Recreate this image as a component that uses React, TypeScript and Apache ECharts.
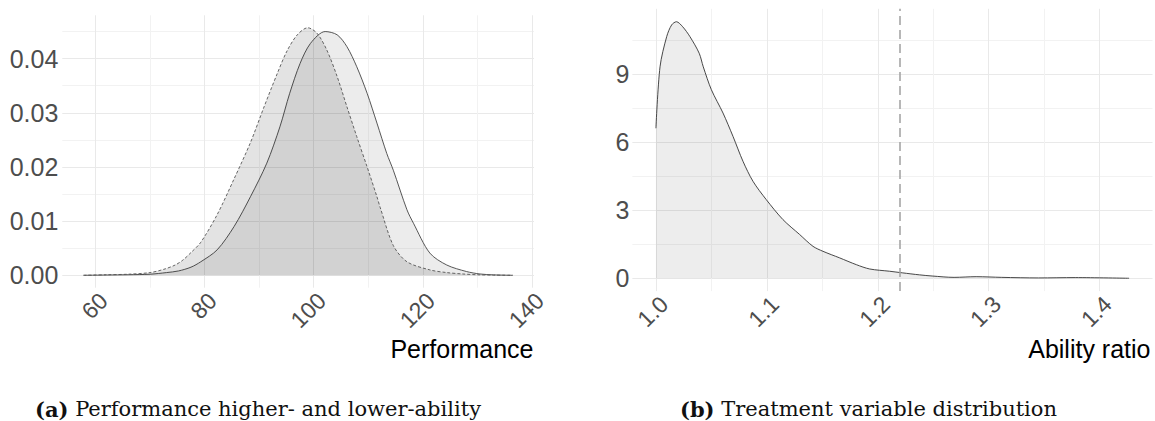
import React, { useEffect, useRef } from "react";
import * as echarts from "echarts";

// Panel (a): density of performance, lower-ability (dashed) and higher-ability (solid)
const lowAbilityX = [57.8, 62, 66, 70, 72.5, 74.6, 76, 77.5, 79.3, 82.3, 85.4, 88.4, 90.9, 93.3, 95.1, 97.0, 98.9, 100.6, 102.4, 104.3, 106.1, 107.9, 109.8, 111.6, 112.2, 114.6, 117.1, 121.3, 124.4, 127.4, 130, 133, 136.5];
const lowAbilityY = [0, 0.0001, 0.0002, 0.0005, 0.0011, 0.0019, 0.0028, 0.0042, 0.0061, 0.0112, 0.0178, 0.0245, 0.0311, 0.0372, 0.0414, 0.0444, 0.0457, 0.0447, 0.0416, 0.0367, 0.0311, 0.0256, 0.02, 0.0145, 0.0125, 0.0055, 0.0025, 0.001, 0.0005, 0.00024, 0.0001, 0.00004, 0];

const highAbilityX = [57.8, 62, 66, 70, 73, 75.2, 77.5, 79.3, 82.3, 85.4, 88.4, 91.4, 93.8, 95.6, 97.5, 99.4, 102.1, 104.3, 106.1, 107.9, 109.8, 111.6, 113.4, 114.6, 117.1, 118.3, 121.3, 124.4, 128.0, 130.5, 133, 136.5];
const highAbilityY = [0, 0.00005, 0.0001, 0.0002, 0.0005, 0.0008, 0.0015, 0.0025, 0.0047, 0.009, 0.0145, 0.0207, 0.0274, 0.0336, 0.0391, 0.0428, 0.045, 0.0444, 0.0422, 0.0385, 0.0336, 0.0281, 0.0225, 0.0194, 0.0121, 0.0096, 0.0041, 0.0019, 0.0007, 0.00024, 0.00008, 0];

// Panel (b): density of the ability ratio
const ratioX = [1.0, 1.0037, 1.0097, 1.0142, 1.0185, 1.0241, 1.0307, 1.039, 1.0427, 1.05, 1.0605, 1.0695, 1.0785, 1.0875, 1.0995, 1.1145, 1.1296, 1.1416, 1.1506, 1.1656, 1.1807, 1.1927, 1.2107, 1.2221, 1.2377, 1.249, 1.2688, 1.2887, 1.3118, 1.345, 1.378, 1.4266];
const ratioY = [6.62, 9.33, 10.66, 11.18, 11.32, 11.1, 10.66, 9.93, 9.33, 8.32, 7.29, 6.26, 5.16, 4.28, 3.47, 2.59, 1.93, 1.41, 1.19, 0.9, 0.6, 0.41, 0.31, 0.24, 0.15, 0.1, 0.04, 0.07, 0.04, 0.015, 0.03, 0];
const ratioThreshold = 1.2225;

// Axis extents (ggplot-style 5% expansion)
const perfRange = [53.9, 140.4];
const perfDensityRange = [-0.00229, 0.048];
const ratioRange = [0.9788, 1.4477];
const ratioDensityRange = [-0.566, 11.89];

const axisTitles = ["Performance", "Ability ratio"];
const captionTags = ["(a)", "(b)"];
const captionTexts = ["Performance higher- and lower-ability", "Treatment variable distribution"];

const pairs = (xs: number[], ys: number[]) => xs.map((x, i) => [x, ys[i]]);

const SANS = "'Liberation Sans', Arial, sans-serif";
const SERIF = "'DejaVu Serif', serif";

function makeXAxis(gridIndex: number, range: number[], fmt: (v: number) => string) {
  return {
    type: "value",
    gridIndex,
    min: range[0],
    max: range[1],
    splitNumber: 5,
    axisLine: { show: false, onZero: false },
    axisTick: { show: false },
    axisLabel: {
      rotate: 45,
      align: "right",
      verticalAlign: "top",
      margin: 1,
      fontSize: 23,
      fontFamily: SANS,
      color: "#4d4d4d",
      showMinLabel: false,
      showMaxLabel: false,
      formatter: (v: number) => fmt(v),
    },
    splitLine: { show: true, showMinLine: false, showMaxLine: false, lineStyle: { color: "#e9e9e9", width: 1 } },
    minorTick: { show: false, splitNumber: 2 },
    minorSplitLine: { show: true, lineStyle: { color: "#f2f2f2", width: 1 } },
  };
}

function makeYAxis(gridIndex: number, range: number[], splitNumber: number, fmt: (v: number) => string, margin: number) {
  return {
    type: "value",
    gridIndex,
    min: range[0],
    max: range[1],
    splitNumber,
    axisLine: { show: false, onZero: false },
    axisTick: { show: false },
    axisLabel: {
      margin,
      fontSize: 25,
      fontFamily: SANS,
      color: "#4d4d4d",
      showMinLabel: false,
      showMaxLabel: false,
      formatter: (v: number) => fmt(v),
    },
    splitLine: { show: true, showMinLine: false, showMaxLine: false, lineStyle: { color: "#e9e9e9", width: 1 } },
    minorTick: { show: false, splitNumber: 2 },
    minorSplitLine: { show: true, lineStyle: { color: "#f2f2f2", width: 1 } },
  };
}

export default function App() {
  const ref = useRef<HTMLDivElement>(null);

  useEffect(() => {
    if (!ref.current) return;
    const chart = echarts.init(ref.current, undefined, { renderer: "svg" });
    chart.setOption({
      animation: false,
      backgroundColor: "#ffffff",
      grid: [
        { left: 62.3, top: 15.3, width: 471.7, height: 272.4, containLabel: false },
        { left: 632.4, top: 8.8, width: 520.1, height: 282.3, containLabel: false },
      ],
      xAxis: [
        makeXAxis(0, perfRange, (v) => String(Math.round(v))),
        makeXAxis(1, ratioRange, (v) => v.toFixed(1)),
      ],
      yAxis: [
        makeYAxis(0, perfDensityRange, 5, (v) => v.toFixed(2), 4),
        makeYAxis(1, ratioDensityRange, 4, (v) => String(Math.round(v)), 3),
      ],
      series: [
        {
          name: "Higher-ability",
          type: "line",
          xAxisIndex: 0,
          yAxisIndex: 0,
          data: pairs(highAbilityX, highAbilityY),
          smooth: 0.3,
          showSymbol: false,
          lineStyle: { color: "#444444", width: 0.9 },
          areaStyle: { color: "#000000", opacity: 0.075 },
          z: 2,
        },
        {
          name: "Lower-ability",
          type: "line",
          xAxisIndex: 0,
          yAxisIndex: 0,
          data: pairs(lowAbilityX, lowAbilityY),
          smooth: 0.3,
          showSymbol: false,
          lineStyle: { color: "#555555", width: 0.9, type: [3, 2] },
          areaStyle: { color: "#000000", opacity: 0.11 },
          z: 3,
        },
        {
          name: "Ability ratio",
          type: "line",
          xAxisIndex: 1,
          yAxisIndex: 1,
          data: pairs(ratioX, ratioY),
          smooth: 0.3,
          showSymbol: false,
          lineStyle: { color: "#333333", width: 0.9 },
          areaStyle: { color: "#000000", opacity: 0.07 },
          markLine: {
            silent: true,
            symbol: ["none", "none"],
            label: { show: false },
            lineStyle: { color: "#a6a6a6", width: 1.6, type: [9, 5] },
            data: [{ xAxis: ratioThreshold }],
          },
        },
      ],
      graphic: [
        {
          type: "text",
          x: 533.5,
          y: 349,
          style: { text: axisTitles[0], font: `25px ${SANS}`, fill: "#000000", align: "right", verticalAlign: "middle" },
        },
        {
          type: "text",
          x: 1150.5,
          y: 349,
          style: { text: axisTitles[1], font: `25px ${SANS}`, fill: "#000000", align: "right", verticalAlign: "middle" },
        },
        {
          type: "text",
          x: 35,
          y: 409,
          style: {
            text: `{b|${captionTags[0]}} ${captionTexts[0]}`,
            font: `21px ${SERIF}`,
            fill: "#111111",
            verticalAlign: "middle",
            rich: { b: { font: `bold 21px ${SERIF}`, fill: "#111111" } },
          },
        },
        {
          type: "text",
          x: 680,
          y: 409,
          style: {
            text: `{b|${captionTags[1]}} ${captionTexts[1]}`,
            font: `21px ${SERIF}`,
            fill: "#111111",
            verticalAlign: "middle",
            rich: { b: { font: `bold 21px ${SERIF}`, fill: "#111111" } },
          },
        },
      ],
    });
    return () => chart.dispose();
  }, []);

  return (
    <div
      ref={ref}
      style={{ position: "fixed", left: 0, top: 0, width: 1155, height: 421, background: "#ffffff" }}
    />
  );
}
